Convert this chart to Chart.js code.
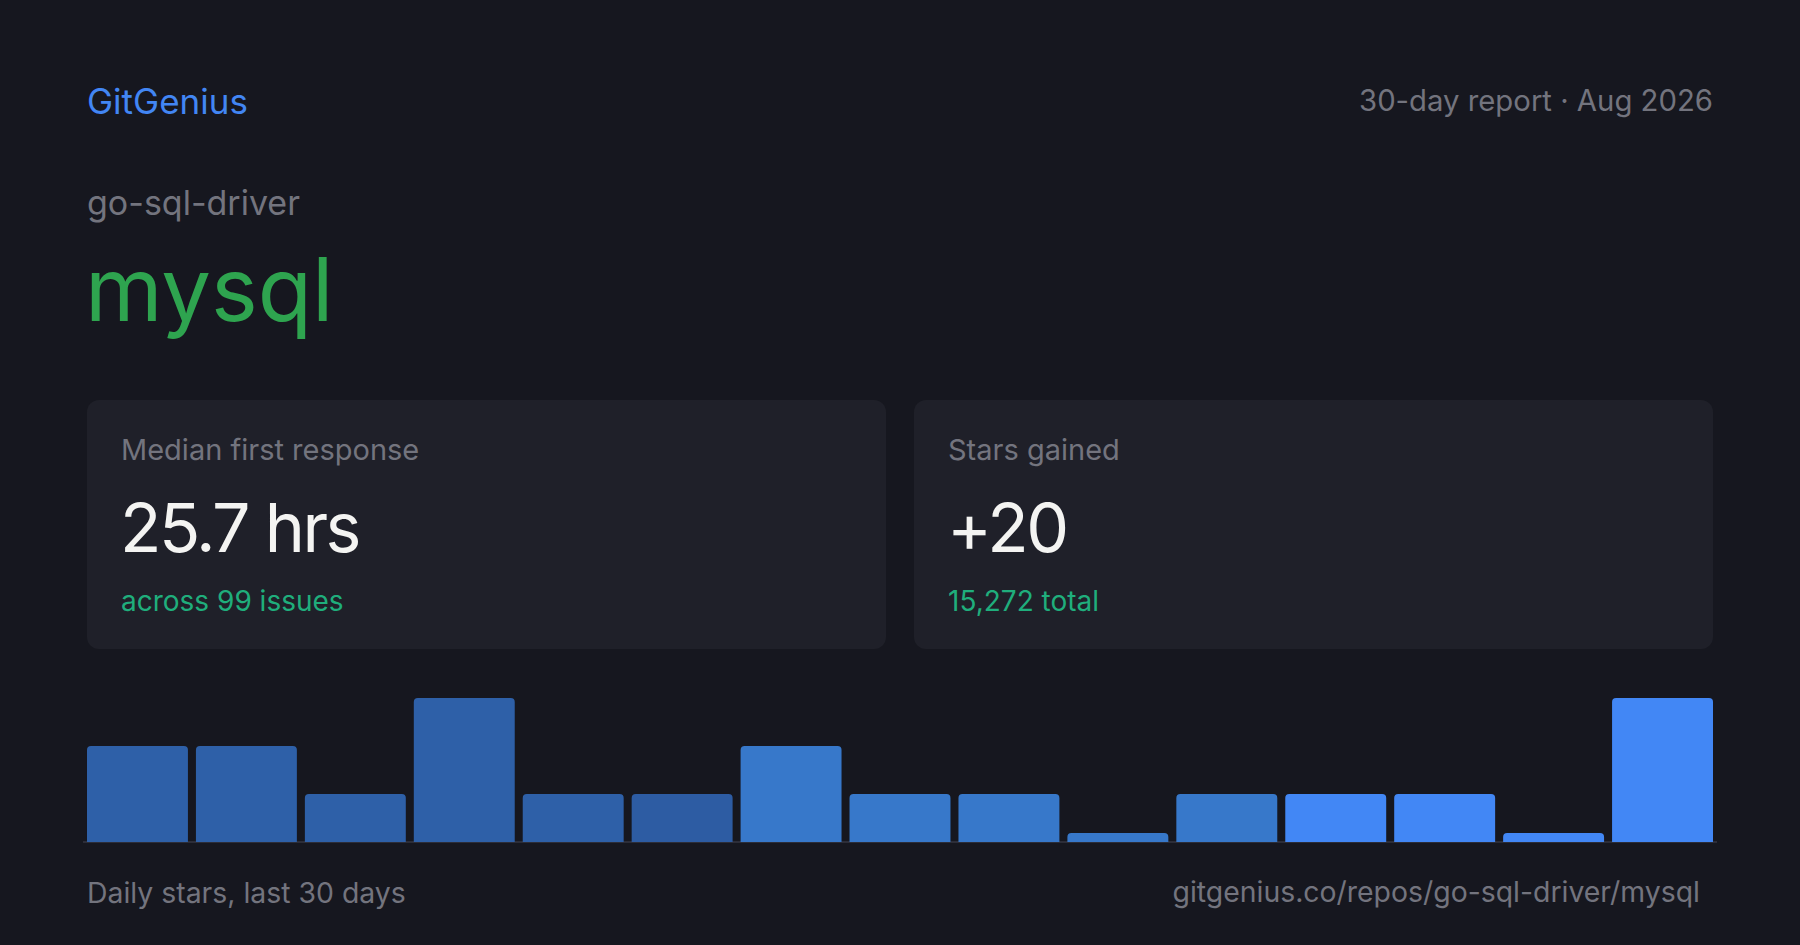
<!DOCTYPE html>
<html>
<head>
<meta charset="utf-8">
<script src="https://cdn.jsdelivr.net/npm/chart.js@4"></script>
<style>
    html, body {
        margin: 0;
        padding: 0;
        width: 1800px;
        height: 945px;
        background: #16171f;
        overflow: hidden;
        font-family: Inter, "Noto Sans", sans-serif;
    }
    .t {
        position: absolute;
        line-height: 1;
        white-space: nowrap;
        font-weight: 400;
    }
    .card {
        position: absolute;
        top: 400px;
        width: 799px;
        height: 249px;
        background: #1f2029;
        border-radius: 12px;
    }
    .muted { color: #73747e; }
    .teal { color: #1fae7c; }
    .big { font-size: 68px; color: #f4f4f2; letter-spacing: -2.5px; }
    .chart-box {
        position: absolute;
        left: 83px;
        top: 694px;
        width: 1634px;
        height: 160px;
    }
</style>
</head>
<body>
    <div class="t" id="brand" style="left:87px; top:84px; font-size:35px; color:#4286f4;"></div>
    <div class="t muted" id="period" style="right:87px; top:86px; font-size:29.3px;"></div>
    <div class="t muted" id="owner" style="left:87px; top:186px; font-size:34px;"></div>
    <div class="t" id="repo" style="left:85px; top:245px; font-size:88.6px; color:#2ea44f;"></div>

    <div class="card" style="left:87px;"></div>
    <div class="card" style="left:914px;"></div>
    <div class="t muted" id="label1" style="left:121px; top:435px; font-size:29px;"></div>
    <div class="t big" id="value1" style="left:120px; top:493px;"></div>
    <div class="t teal" id="sub1" style="left:121px; top:587px; font-size:28px;"></div>
    <div class="t muted" id="label2" style="left:948px; top:435px; font-size:29px;"></div>
    <div class="t big" id="value2" style="left:947px; top:493px;"></div>
    <div class="t teal" id="sub2" style="left:948px; top:587px; font-size:28px;"></div>

    <div class="chart-box"><canvas id="starsChart"></canvas></div>

    <div class="t muted" id="footLeft" style="left:87px; top:879px; font-size:28.4px;"></div>
    <div class="t muted" id="footRight" style="right:100px; top:878px; font-size:28.4px;"></div>

<script>
// Header / card texts
const brand = 'GitGenius';
const period = '30-day report · Aug 2026';
const owner = 'go-sql-driver';
const repo = 'mysql';
const cardLabels = ['Median first response', 'Stars gained'];
const cardValues = ['25.7 hrs', '+20'];
const cardSubs = ['across 99 issues', '15,272 total'];
const footLeft = 'Daily stars, last 30 days';
const footRight = 'gitgenius.co/repos/go-sql-driver/mysql';

// Bar data
const days = ['1', '3', '5', '7', '9', '11', '13', '15', '17', '19', '21', '23', '25', '27', '29'];
const stars = [2, 2, 1, 3, 1, 1, 2, 1, 1, 0, 1, 1, 1, 0, 3];
const barColors = [
    '#2e60a8', '#2e60a8', '#2e60a8', '#2e60a8', '#2e60a8', '#2d5ca3',
    '#3778ca', '#3778ca', '#3778ca', '#3778ca', '#3778ca',
    '#4287f5', '#4287f5', '#4287f5', '#4287f5'
];

document.addEventListener('DOMContentLoaded', function() {
    document.getElementById('brand').textContent = brand;
    document.getElementById('period').textContent = period;
    document.getElementById('owner').textContent = owner;
    document.getElementById('repo').textContent = repo;
    document.getElementById('label1').textContent = cardLabels[0];
    document.getElementById('label2').textContent = cardLabels[1];
    document.getElementById('value1').textContent = cardValues[0];
    document.getElementById('value2').textContent = cardValues[1];
    document.getElementById('sub1').textContent = cardSubs[0];
    document.getElementById('sub2').textContent = cardSubs[1];
    document.getElementById('footLeft').textContent = footLeft;
    document.getElementById('footRight').textContent = footRight;

    initStarsChart();
});

function initStarsChart() {
    const ctx = document.getElementById('starsChart').getContext('2d');

    new Chart(ctx, {
        type: 'bar',
        data: {
            labels: days,
            datasets: [{
                data: stars,
                backgroundColor: barColors,
                borderWidth: 0,
                borderRadius: { topLeft: 4, topRight: 4 },
                borderSkipped: 'start',
                minBarLength: 9,
                categoryPercentage: 1,
                barPercentage: 0.9266
            }]
        },
        options: {
            responsive: true,
            maintainAspectRatio: false,
            animation: false,
            layout: {
                padding: { top: 4, bottom: 4, left: 0, right: 0 }
            },
            plugins: {
                legend: { display: false },
                tooltip: { enabled: false }
            },
            scales: {
                x: {
                    grid: { display: false },
                    ticks: { display: false },
                    border: { display: true, color: '#2c2d38', width: 2 }
                },
                y: {
                    display: false,
                    min: 0,
                    max: 3
                }
            }
        }
    });
}
</script>
</body>
</html>
